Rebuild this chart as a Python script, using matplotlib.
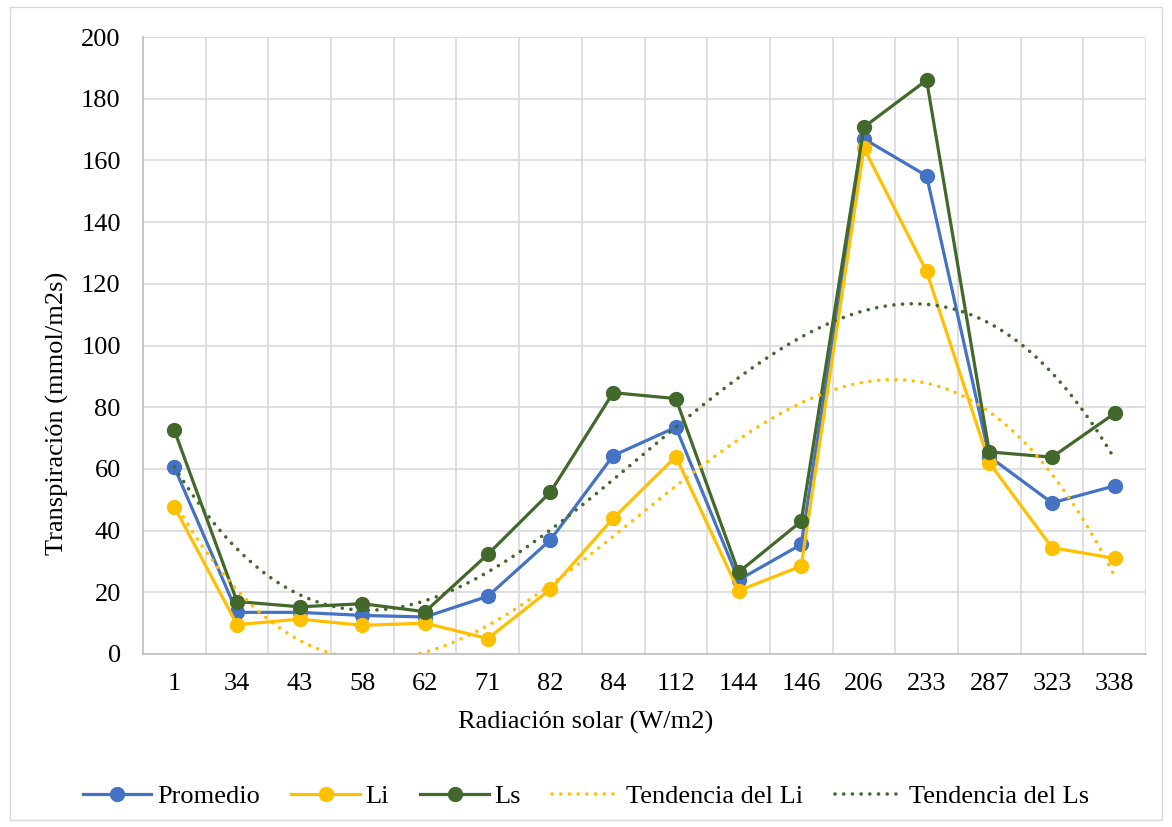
import numpy as np
import matplotlib
matplotlib.use('Agg')
import matplotlib.pyplot as plt

# ======================
# DATA
# ======================
radiacion = ['1', '34', '43', '58', '62', '71', '82', '84', '112', '144',
             '146', '206', '233', '287', '323', '338']
promedio = [60.5, 13.5, 13.5, 12.5, 12.0, 18.7, 37.0, 64.3, 73.5, 24.0,
            35.5, 167.0, 155.0, 64.0, 49.0, 54.5]
li = [47.7, 9.5, 11.3, 9.3, 10.0, 5.0, 21.0, 44.0, 64.0, 20.5,
      28.5, 164.0, 124.0, 62.0, 34.5, 31.0]
ls = [72.5, 17.0, 15.3, 16.3, 13.7, 32.3, 52.5, 84.7, 82.8, 26.5,
      43.0, 170.8, 186.0, 65.5, 63.8, 78.0]

c_prom = '#4472C4'
c_li = '#FFC000'
c_ls = '#43682B'

plt.rcParams['font.family'] = ['Liberation Serif', 'DejaVu Serif']
fs = 19

fig = plt.figure(figsize=(11.72, 8.27), dpi=100)
ax = fig.add_axes([143 / 1172, 1 - 654 / 827, (1146 - 143) / 1172, (654 - 37) / 827])

# chart area border
fig.patches.append(plt.Rectangle((10 / 1172, 7 / 827), 1152 / 1172, 813 / 827,
                                 transform=fig.transFigure, fill=False,
                                 edgecolor='#d9d9d9', linewidth=1))

x = np.arange(len(radiacion))
lw = 2.3
ms = 10
ax.plot(x, promedio, color=c_prom, lw=lw, marker='o', ms=ms, label='Promedio', zorder=3)
ax.plot(x, li, color=c_li, lw=lw, marker='o', ms=ms, label='Li', zorder=3)
ax.plot(x, ls, color=c_ls, lw=lw, marker='o', ms=ms, label='Ls', zorder=3)

# polynomial trend lines (Excel style, fitted on category index 1..n)
idx = x + 1
xs = np.linspace(1, len(radiacion), 300)
for serie, col, deg, name in [(li, c_li, 3, 'Tendencia del Li'),
                              (ls, c_ls, 4, 'Tendencia del Ls')]:
    coef = np.polyfit(idx, serie, deg)
    ax.plot(xs - 1, np.polyval(coef, xs), color=col, lw=2.6, ls=(0, (0.01, 2.4)),
            dash_capstyle='round', label=name, zorder=4)

ax.set_xlim(-0.5, len(radiacion) - 0.5)
ax.set_ylim(0, 200)
ax.set_yticks(np.arange(0, 201, 20))
ax.set_xticks(x)
ax.set_xticklabels(radiacion)
ax.set_xticks(np.arange(-0.5, len(radiacion), 1), minor=True)
ax.grid(True, which='minor', axis='x', color='#d9d9d9', lw=1.2)
ax.grid(True, which='major', axis='y', color='#d9d9d9', lw=1.2)
ax.set_axisbelow(True)
ax.tick_params(which='both', length=0, labelsize=fs, colors='black')
ax.tick_params(axis='x', pad=14)
ax.tick_params(axis='y', pad=16)
for s in ['top', 'right']:
    ax.spines[s].set_visible(False)
for s in ['left', 'bottom']:
    ax.spines[s].set_color('#bfbfbf')
    ax.spines[s].set_linewidth(1.2)

ax.set_xlabel('Radiación solar (W/m2)', fontsize=fs, labelpad=6)
ax.set_ylabel('Transpiración (mmol/m2s)', fontsize=fs, labelpad=6)
ax.yaxis.set_label_coords(57 / 1172, 0.5, transform=fig.transFigure)
ax.xaxis.set_label_coords(0.5, 1 - 722 / 827, transform=fig.transFigure)
ax.xaxis.label.set_va('center')
ax.yaxis.label.set_va('center')

fig.legend(loc='center', bbox_to_anchor=(0.5, 1 - 796 / 827), ncol=5, frameon=False,
           fontsize=fs, handlelength=2.6, columnspacing=1.2, handletextpad=0.2)

fig.savefig('out.png', dpi=100)
